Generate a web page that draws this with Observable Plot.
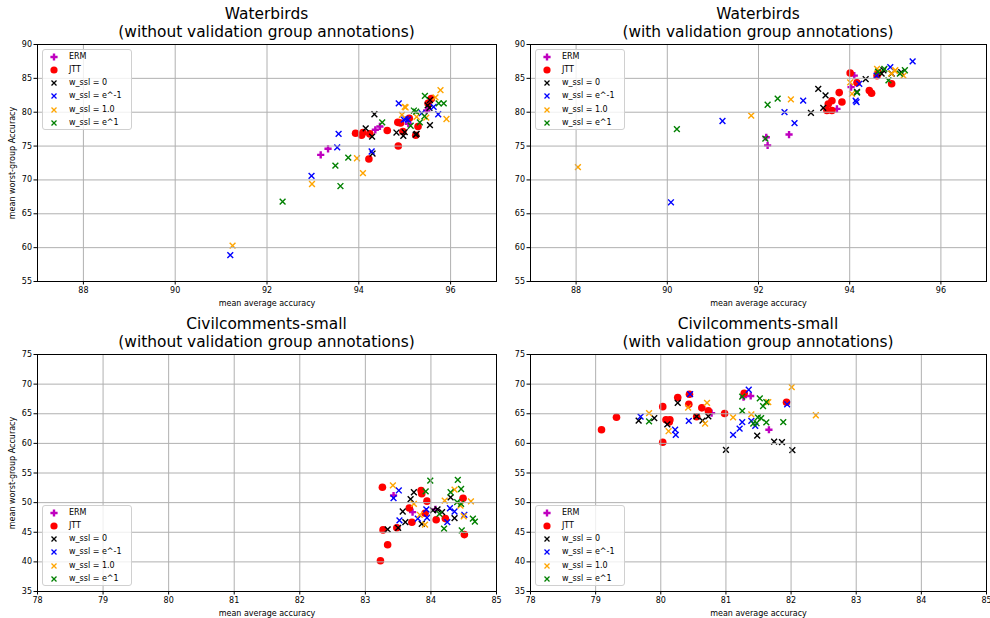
<!DOCTYPE html>
<html><head><meta charset="utf-8">
<script src="https://cdn.jsdelivr.net/npm/d3@7"></script>
<script src="https://cdn.jsdelivr.net/npm/@observablehq/plot@0.6"></script>
<style>
body{margin:0;background:#fff;font-family:"DejaVu Sans",sans-serif;}
#fig{position:relative;width:990px;height:618px;overflow:hidden;background:#fff;}
.panel{position:absolute;}
.title{position:absolute;text-align:center;font-size:15.4px;line-height:18px;color:#000;white-space:nowrap;transform:translateX(-50%);}
.legend{position:absolute;width:88px;height:79px;background:rgba(255,255,255,0.8);border:1px solid #d0d0d0;border-radius:3px;font-size:8px;color:#000;}
.legend .row{position:absolute;left:0;height:12px;line-height:12px;white-space:nowrap;}
.legend svg{position:absolute;top:1px;}
.legend span{position:absolute;}
</style></head>
<body><div id="fig"></div>
<script>
// ---------- data ----------
const seriesNames = ["ERM", "JTT", "w_ssl = 0", "w_ssl = e^-1", "w_ssl = 1.0", "w_ssl = e^1"];
const titles = [
  ["Waterbirds", "(without validation group annotations)"],
  ["Waterbirds", "(with validation group annotations)"],
  ["Civilcomments-small", "(without validation group annotations)"],
  ["Civilcomments-small", "(with validation group annotations)"]
];
const xLabel = "mean average accuracy";
const yLabel = "mean worst-group Accuracy";
const wbXTicks = [88, 90, 92, 94, 96];
const wbYTicks = [55, 60, 65, 70, 75, 80, 85, 90];
const ccXTicks = [78, 79, 80, 81, 82, 83, 84, 85];
const ccYTicks = [35, 40, 45, 50, 55, 60, 65, 70, 75];

// Waterbirds, without annotations
const wbNo_ERM = [[93.17,73.7],[93.33,74.6],[94.36,77.4],[94.46,77.9],[95.08,78.3],[95.48,80.25]];
const wbNo_JTT = [[93.93,76.9],[94.06,76.6],[94.09,77.0],[94.24,76.8],[94.22,73.1],[94.62,77.3],[94.86,75.0],[94.85,78.5],[94.91,78.4],[94.96,77.15],[95.1,79.1],[95.24,76.6],[95.29,77.9],[95.51,81.3],[95.58,82.0]];
const wbNo_W0 = [[94.15,77.6],[94.29,76.4],[94.34,79.7],[94.3,73.9],[94.82,77.0],[94.97,76.5],[95.0,77.05],[95.26,76.8],[95.24,76.7],[95.55,78.1],[95.55,81.8],[95.5,81.0],[95.54,80.65]];
const wbNo_Wm1 = [[91.2,58.9],[92.97,70.6],[93.53,74.8],[93.56,76.8],[94.28,74.2],[94.87,81.3],[94.98,78.9],[95.07,78.9],[95.02,79.0],[95.37,79.85],[95.63,80.8],[95.73,79.7]];
const wbNo_W1 = [[91.25,60.3],[92.98,69.4],[93.96,73.2],[94.09,71.0],[95.0,80.8],[94.94,79.6],[95.02,80.7],[95.26,79.3],[95.47,79.2],[95.67,82.2],[95.78,83.25],[95.91,79.0]];
const wbNo_We1 = [[92.34,66.8],[93.49,72.1],[93.6,69.1],[93.77,73.3],[94.51,78.5],[95.2,80.25],[95.25,80.1],[95.44,82.4],[95.74,81.3],[95.85,81.3],[95.43,79.4],[95.33,78.5],[95.13,78.0]];

// Waterbirds, with annotations
const wbAnn_ERM = [[92.17,76.3],[92.2,75.1],[92.67,76.7],[93.72,80.5],[94.1,85.4],[94.03,83.7]];
const wbAnn_JTT = [[93.77,82.9],[93.83,81.5],[93.61,81.7],[93.53,81.2],[93.5,80.25],[93.61,80.25],[94.01,85.8],[94.16,84.35],[94.43,83.2],[94.48,82.8],[94.6,85.4],[94.63,85.8],[94.92,84.2]];
const wbAnn_W0 = [[93.15,79.9],[93.31,83.45],[93.47,82.5],[93.42,80.65],[94.35,84.9],[94.16,83.0],[94.74,86.2],[94.7,85.7],[94.92,85.7],[95.13,85.9]];
const wbAnn_Wm1 = [[90.08,66.7],[91.21,78.7],[92.57,80.0],[92.79,78.4],[92.98,81.7],[94.21,84.2],[94.13,81.7],[94.15,81.5],[94.59,85.4],[94.89,86.65],[95.38,87.5]];
const wbAnn_W1 = [[88.04,71.9],[91.84,79.5],[92.71,81.9],[94.01,84.4],[94.05,82.7],[94.6,86.4],[94.91,85.7],[95.0,86.2],[95.18,85.4],[94.99,86.1]];
const wbAnn_We1 = [[90.21,77.5],[92.15,76.1],[92.2,81.1],[92.42,82.0],[94.16,82.9],[94.62,86.0],[94.85,84.7],[95.1,85.7],[95.21,86.2],[94.76,86.4]];

// Civilcomments-small, without annotations
const ccNo_ERM = [[83.43,51.2],[83.72,48.4],[84.07,48.85]];
const ccNo_JTT = [[83.23,40.2],[83.34,42.9],[83.27,45.4],[83.48,45.75],[83.26,52.6],[83.67,49.1],[83.71,46.7],[83.85,52.05],[83.86,51.5],[83.94,50.25],[83.91,48.2],[84.08,47.1],[84.22,47.3],[84.49,50.75],[84.51,44.6]];
const ccNo_W0 = [[83.34,45.5],[83.5,45.75],[83.57,48.5],[83.61,46.7],[83.69,50.6],[83.74,51.75],[83.86,46.4],[84.03,48.7],[84.1,48.85],[84.17,48.4],[84.3,50.9],[84.36,47.4]];
const ccNo_Wm1 = [[83.51,52.05],[83.43,50.75],[83.52,47.0],[83.8,47.3],[83.94,47.45],[83.93,48.85],[84.25,46.7],[84.29,49.05],[84.36,48.5],[84.51,47.95]];
const ccNo_W1 = [[83.42,52.9],[83.74,49.8],[83.83,47.95],[83.91,46.3],[84.21,50.35],[84.36,52.2],[84.45,49.5],[84.61,50.2],[84.5,47.7]];
const ccNo_We1 = [[83.92,51.9],[83.99,53.7],[84.13,48.1],[84.2,45.6],[84.3,51.75],[84.41,53.85],[84.46,52.3],[84.4,50.1],[84.46,49.8],[84.64,47.3],[84.67,46.8],[84.47,45.3]];

// Civilcomments-small, with annotations
const ccAnn_ERM = [[80.78,65.1],[81.27,67.8],[81.38,68.0],[81.66,62.3]];
const ccAnn_JTT = [[79.09,62.3],[79.32,64.4],[80.03,66.2],[80.03,60.2],[80.08,64.0],[80.14,64.0],[80.13,63.6],[80.26,67.75],[80.44,68.3],[80.43,66.6],[80.55,64.5],[80.63,66.0],[80.73,65.5],[80.98,65.05],[81.28,68.45],[81.93,66.95]];
const ccAnn_W0 = [[79.66,63.85],[79.9,64.25],[80.1,63.2],[80.26,66.85],[80.55,64.55],[80.64,63.85],[80.73,64.55],[81.0,58.9],[81.48,61.3],[81.74,60.3],[81.86,60.2],[82.02,58.85]];
const ccAnn_Wm1 = [[79.69,64.5],[80.22,62.3],[80.23,61.45],[80.45,68.3],[80.43,63.8],[81.11,61.45],[81.21,62.5],[81.25,63.6],[81.35,69.05],[81.39,63.8],[81.45,62.95],[81.94,66.6]];
const ccAnn_W1 = [[79.82,65.1],[80.12,62.05],[80.42,66.05],[80.71,66.85],[80.68,63.35],[81.11,64.4],[81.39,64.9],[81.65,66.95],[82.01,69.5],[82.38,64.75]];
const ccAnn_We1 = [[79.82,63.7],[81.25,67.9],[81.25,65.5],[81.52,67.6],[81.57,66.3],[81.62,66.95],[81.49,64.4],[81.54,64.25],[81.47,63.4],[81.42,63.35],[81.62,63.55],[81.88,63.6]];

// ---------- styles ----------
const plusSymbol = {draw(ctx, size) {
  const r = Math.sqrt(size / Math.PI), w = r / 3;
  ctx.moveTo(-w, -r); ctx.lineTo(w, -r); ctx.lineTo(w, -w); ctx.lineTo(r, -w); ctx.lineTo(r, w);
  ctx.lineTo(w, w); ctx.lineTo(w, r); ctx.lineTo(-w, r); ctx.lineTo(-w, w); ctx.lineTo(-r, w);
  ctx.lineTo(-r, -w); ctx.lineTo(-w, -w); ctx.closePath();
}};
const timesSymbol = {draw(ctx, size) {
  const r = Math.sqrt(size / Math.PI);
  ctx.moveTo(-r, -r); ctx.lineTo(r, r); ctx.moveTo(-r, r); ctx.lineTo(r, -r);
}};
const styles = [
  {symbol: plusSymbol, r: 3.6, fill: "#bf00bf", stroke: "none", sw: 0, kind: "plus"},
  {symbol: "circle", r: 3.8, fill: "#ff0000", stroke: "none", sw: 0, kind: "circle"},
  {symbol: timesSymbol, r: 2.9, fill: "none", stroke: "#000000", sw: 1.4, kind: "times"},
  {symbol: timesSymbol, r: 2.9, fill: "none", stroke: "#0000ff", sw: 1.4, kind: "times"},
  {symbol: timesSymbol, r: 2.9, fill: "none", stroke: "#ffa500", sw: 1.4, kind: "times"},
  {symbol: timesSymbol, r: 2.9, fill: "none", stroke: "#008000", sw: 1.4, kind: "times"}
];

const panels = [
  {series: [wbNo_ERM, wbNo_JTT, wbNo_W0, wbNo_Wm1, wbNo_W1, wbNo_We1], xd: [87, 97], yd: [55, 90], xt: wbXTicks, yt: wbYTicks,
   left: 0, top: 0, w: 510, h: 309, ml: 37, mt: 44, mr: 14, mb: 28, yLab: true, legend: "top"},
  {series: [wbAnn_ERM, wbAnn_JTT, wbAnn_W0, wbAnn_Wm1, wbAnn_W1, wbAnn_We1], xd: [87, 97], yd: [55, 90], xt: wbXTicks, yt: wbYTicks,
   left: 510, top: 0, w: 480, h: 309, ml: 20, mt: 44, mr: 4, mb: 28, yLab: false, legend: "top"},
  {series: [ccNo_ERM, ccNo_JTT, ccNo_W0, ccNo_Wm1, ccNo_W1, ccNo_We1], xd: [78, 85], yd: [35, 75], xt: ccXTicks, yt: ccYTicks,
   left: 0, top: 309, w: 510, h: 309, ml: 37, mt: 45, mr: 14, mb: 27, yLab: true, legend: "bottom"},
  {series: [ccAnn_ERM, ccAnn_JTT, ccAnn_W0, ccAnn_Wm1, ccAnn_W1, ccAnn_We1], xd: [78, 85], yd: [35, 75], xt: ccXTicks, yt: ccYTicks,
   left: 510, top: 309, w: 480, h: 309, ml: 20, mt: 45, mr: 4, mb: 27, yLab: false, legend: "bottom"}
];

const fig = document.getElementById("fig");

function markerSvg(s) {
  const c = 5;
  let inner;
  if (s.kind === "plus") {
    const r = 3.6, w = r / 3;
    inner = `<path d="M${c-w},${c-r}H${c+w}V${c-w}H${c+r}V${c+w}H${c+w}V${c+r}H${c-w}V${c+w}H${c-r}V${c-w}H${c-w}Z" fill="${s.fill}"/>`;
  } else if (s.kind === "circle") {
    inner = `<circle cx="${c}" cy="${c}" r="3.6" fill="${s.fill}"/>`;
  } else {
    const r = 2.5;
    inner = `<path d="M${c-r},${c-r}L${c+r},${c+r}M${c-r},${c+r}L${c+r},${c-r}" stroke="${s.stroke}" stroke-width="1.3" fill="none"/>`;
  }
  return `<svg width="10" height="10" viewBox="0 0 10 10">${inner}</svg>`;
}

panels.forEach((p, pi) => {
  const marks = [];
  p.series.forEach((data, i) => {
    const s = styles[i];
    marks.push(Plot.dot(data, {x: d => d[0], y: d => d[1], symbol: s.symbol, r: s.r,
      fill: s.fill, stroke: s.stroke, strokeWidth: s.sw}));
  });
  marks.push(Plot.gridX(p.xt, {stroke: "#b0b0b0", strokeOpacity: 1, strokeWidth: 1}));
  marks.push(Plot.gridY(p.yt, {stroke: "#b0b0b0", strokeOpacity: 1, strokeWidth: 1}));
  marks.push(Plot.frame({stroke: "#000", strokeWidth: 1}));
  marks.push(Plot.axisX(p.xt, {tickSize: 3.5, tickPadding: 2, fontSize: 8, label: xLabel,
    labelAnchor: "center", labelArrow: "none", labelOffset: 24, tickFormat: d => String(d)}));
  marks.push(Plot.axisY(p.yt, {tickSize: 3.5, tickPadding: 2, fontSize: 8, label: p.yLab ? yLabel : null,
    labelAnchor: "center", labelArrow: "none", labelOffset: 28, tickFormat: d => String(d)}));
  const chart = Plot.plot({
    width: p.w, height: p.h,
    marginLeft: p.ml, marginTop: p.mt, marginRight: p.mr, marginBottom: p.mb,
    x: {domain: p.xd}, y: {domain: p.yd},
    style: {fontFamily: "DejaVu Sans, sans-serif", fontSize: "8px", background: "transparent", color: "#000", overflow: "visible"},
    marks
  });
  const holder = document.createElement("div");
  holder.className = "panel";
  holder.style.left = p.left + "px";
  holder.style.top = p.top + "px";
  holder.appendChild(chart);
  fig.appendChild(holder);

  const fl = p.left + p.ml, fr = p.left + p.w - p.mr, ft = p.top + p.mt, fb = p.top + p.h - p.mb;
  const t = document.createElement("div");
  t.className = "title";
  t.style.left = ((fl + fr) / 2) + "px";
  t.style.top = (ft - 39) + "px";
  t.innerHTML = titles[pi][0] + "<br>" + titles[pi][1];
  fig.appendChild(t);

  const lg = document.createElement("div");
  lg.className = "legend";
  lg.style.left = (fl + 5) + "px";
  lg.style.top = (p.legend === "top" ? ft + 5 : fb - 5 - 81) + "px";
  seriesNames.forEach((name, i) => {
    const row = document.createElement("div");
    row.className = "row";
    row.style.top = (0.7 + i * 13.2) + "px";
    row.innerHTML = `<span style="left:6px;top:0">${markerSvg(styles[i])}</span><span style="left:26px;top:0">${name}</span>`;
    row.querySelector("svg").style.top = "1px";
    lg.appendChild(row);
  });
  fig.appendChild(lg);
});
</script>
</body></html>
